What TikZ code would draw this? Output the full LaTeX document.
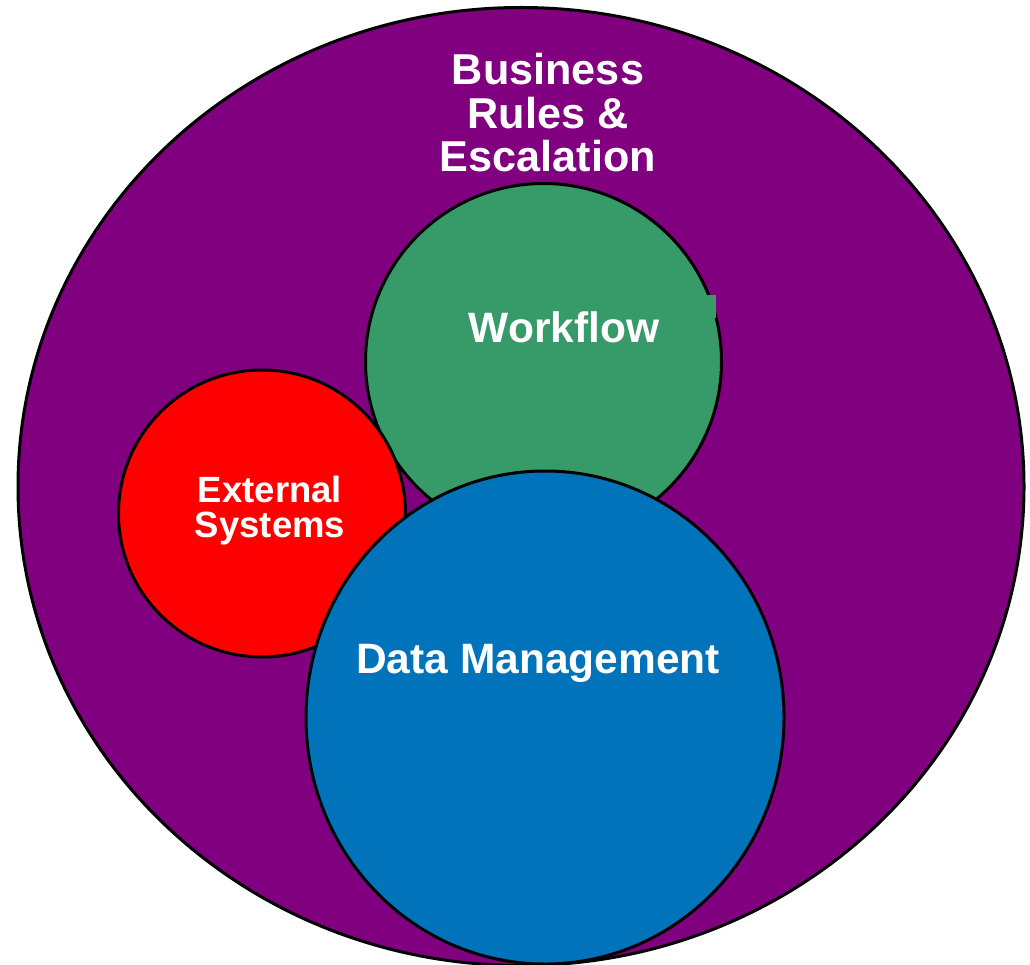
\documentclass[tikz,border=0pt]{standalone}
\usepackage{fontspec}
\setmainfont{Liberation Sans}
\definecolor{bizpurple}{HTML}{800080}
\definecolor{wfgreen}{HTML}{379A69}
\definecolor{extred}{HTML}{FF0000}
\definecolor{datablue}{HTML}{0073BB}
\begin{document}
\begin{tikzpicture}[x=1pt,y=-1pt,
  ring/.style={draw=black,line width=3pt},
  lbl/.style={text=white,font=\bfseries,align=center,inner sep=0pt}]
\useasboundingbox (0,0) rectangle (1030,965);
\path[ring,fill=bizpurple] (521,486.5) ellipse [x radius=503,y radius=479];
\path[ring,fill=wfgreen] (543.5,361.5) circle [radius=178];
\fill[wfgreen] (700,295) rectangle (716,318);
\path[ring,fill=extred] (262,513.5) circle [radius=143.5];
\path[ring,fill=datablue] (545,717.5) ellipse [x radius=239,y radius=246.5];
\node[lbl,anchor=base,font=\bfseries\fontsize{43.2}{43.5}\selectfont] (biz) at (548,172) {Business\\Rules \&\\Escalation};
\node[lbl,anchor=base,font=\bfseries\fontsize{42.5}{42.5}\selectfont] (wf) at (564,342) {Workflow};
\node[lbl,anchor=base,font=\bfseries\fontsize{36.5}{35}\selectfont] (ext) at (270,537) {External\\Systems};
\node[lbl,anchor=base,font=\bfseries\fontsize{42.5}{42.5}\selectfont] (dm) at (538,673) {Data Management};
\end{tikzpicture}
\end{document}
